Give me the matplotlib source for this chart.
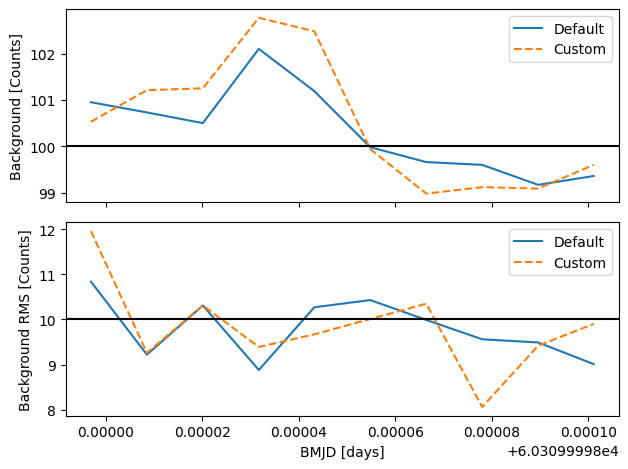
import matplotlib
matplotlib.use("Agg")
import matplotlib.pyplot as plt
import numpy as np

# BMJD of each frame
bmjd = np.array([
    60309.9997969, 60309.9998085, 60309.9998201, 60309.9998317, 60309.9998432,
    60309.9998548, 60309.9998664, 60309.9998780, 60309.9998896, 60309.9999011,
])

bg_default = [100.95, 100.73, 100.50, 102.10, 101.19, 99.98, 99.66, 99.60, 99.17, 99.36]
bg_custom = [100.53, 101.21, 101.25, 102.77, 102.48, 99.94, 98.98, 99.12, 99.09, 99.60]

rms_default = [10.84, 9.22, 10.31, 8.88, 10.27, 10.43, 9.99, 9.56, 9.49, 9.01]
rms_custom = [11.96, 9.26, 10.31, 9.39, 9.67, 10.01, 10.35, 8.06, 9.42, 9.90]

bg_true = 100.0
rms_true = 10.0


def main() -> None:
    fig, (ax1, ax2) = plt.subplots(2, 1, sharex=True, figsize=(6.4, 4.8), dpi=100)

    ax1.plot(bmjd, bg_default, label="Default")
    ax1.plot(bmjd, bg_custom, "--", label="Custom")
    ax1.axhline(bg_true, color="k")
    ax1.set_ylabel("Background [Counts]")
    ax1.legend(loc="upper right")

    ax2.plot(bmjd, rms_default, label="Default")
    ax2.plot(bmjd, rms_custom, "--", label="Custom")
    ax2.axhline(rms_true, color="k")
    ax2.set_ylabel("Background RMS [Counts]")
    ax2.set_xlabel("BMJD [days]")
    ax2.legend(loc="upper right")

    fig.tight_layout()
    fig.savefig("out.png", dpi=100, bbox_inches="tight")
    plt.close(fig)


if __name__ == "__main__":
    main()
